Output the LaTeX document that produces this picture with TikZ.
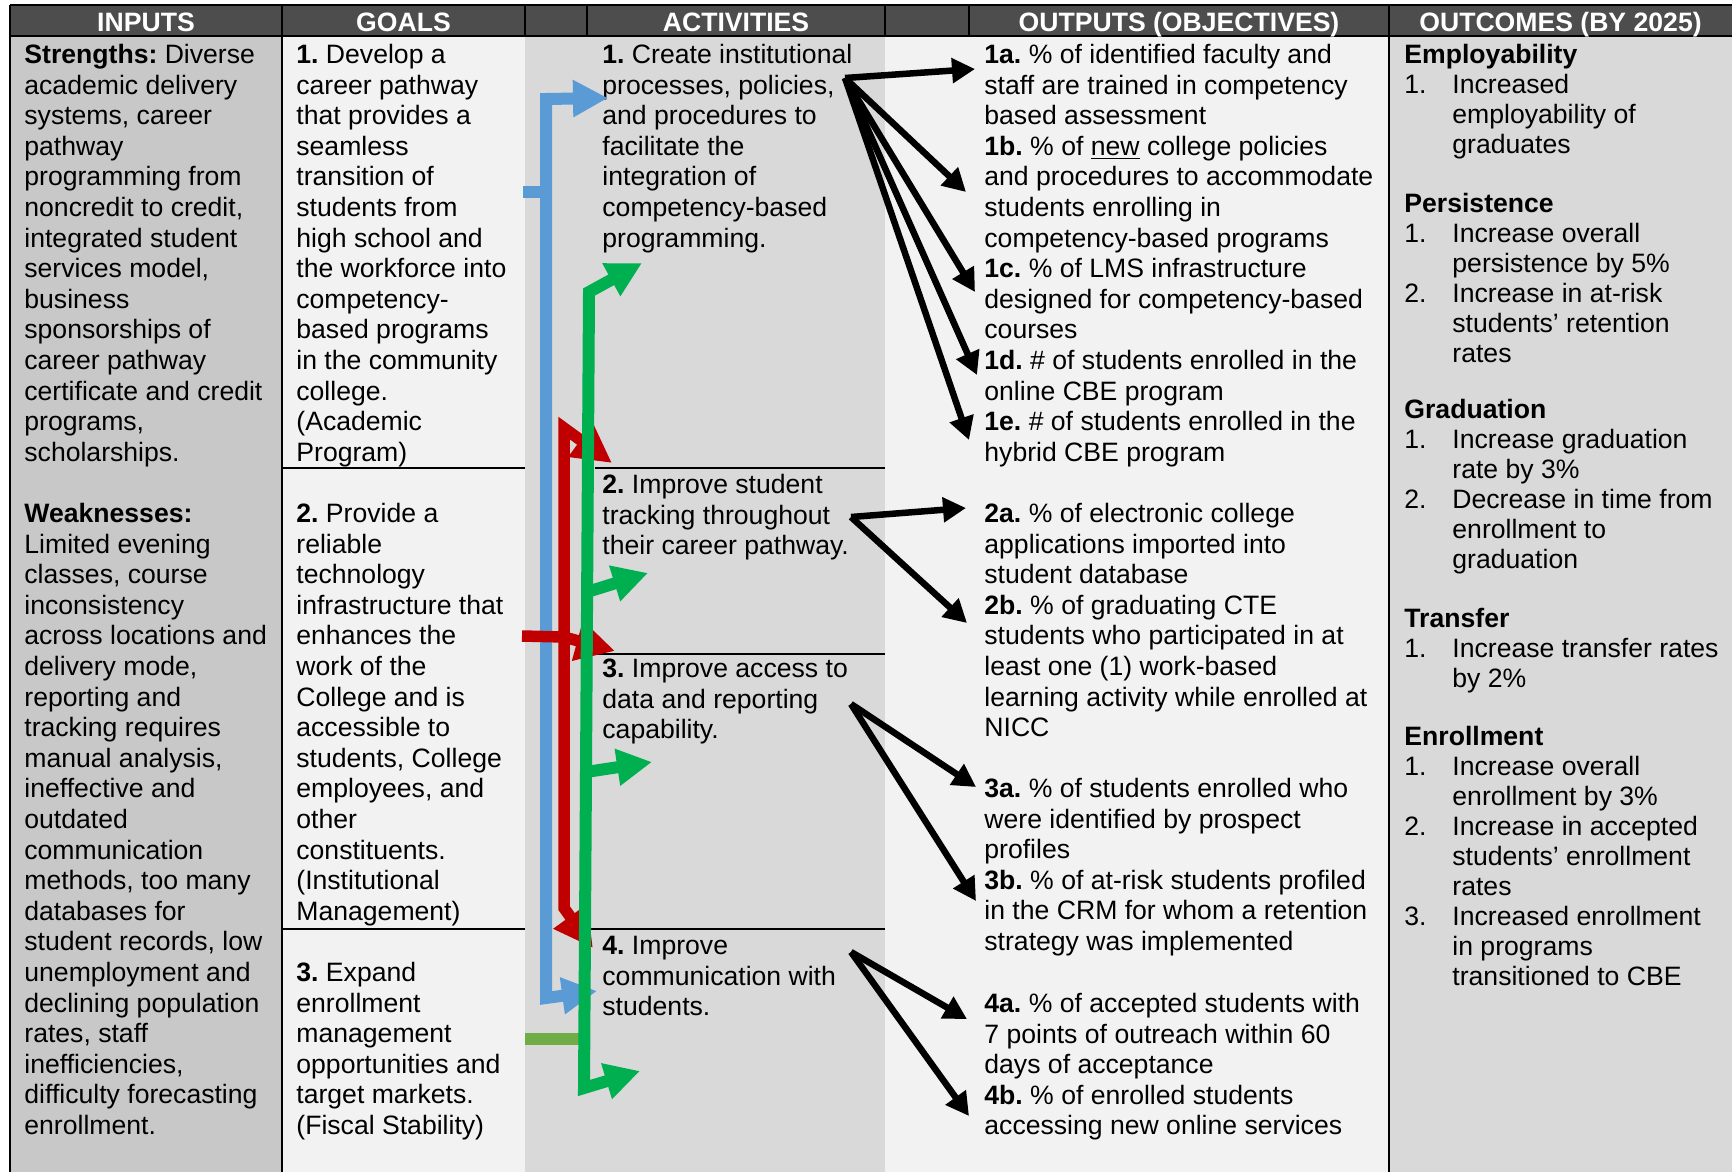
\documentclass[tikz,border=0pt]{standalone}
\usepackage{fontspec}
\setmainfont{Liberation Sans}
\usetikzlibrary{arrows.meta}
\frenchspacing
\definecolor{hdrgray}{HTML}{4D4D4D}
\definecolor{inbg}{HTML}{C8C8C8}
\definecolor{litebg}{HTML}{F2F2F2}
\definecolor{midbg}{HTML}{D9D9D9}
\definecolor{arrblue}{HTML}{5B9BD5}
\definecolor{arrred}{HTML}{C00000}
\definecolor{arrgreen}{HTML}{00B050}
\definecolor{stubgreen}{HTML}{70AD47}
\newcommand\bodyfont{\fontsize{13.3pt}{15.3pt}\selectfont\frenchspacing}
\newcommand\outcfont{\fontsize{13.3pt}{15pt}\selectfont\frenchspacing}
\newcommand\fst{\rule{0pt}{11pt}}
\newcommand\outind{\hspace*{24pt}}
\newcommand\outnum[1]{\makebox[24pt][l]{#1}}
\begin{document}
\begin{tikzpicture}[x=0.5pt,y=-0.5pt,
  txt/.style={anchor=north west,inner sep=0pt,align=left,font=\bodyfont},
  otxt/.style={anchor=north west,inner sep=0pt,align=left,font=\outcfont},
  hdrtxt/.style={anchor=base,inner sep=0pt,text=white,font=\bodyfont\bfseries},
  tabline/.style={line width=1.3pt,black},
  sepline/.style={line width=1pt,black},
  colline/.style={line width=6pt,line join=miter},
  colarrow/.style={line width=6pt,line join=miter,-{Triangle[length=17.5pt,width=17.5pt]}},
  colboth/.style={line width=6pt,line join=miter,{Triangle[length=17.5pt,width=17.5pt]}-{Triangle[length=17.5pt,width=17.5pt]}},
  redarrow/.style={line width=5.75pt,line join=miter,-{Triangle[length=19.5pt,width=19.5pt]}},
  redboth/.style={line width=5.75pt,line join=miter,{Triangle[length=19.5pt,width=19.5pt]}-{Triangle[length=19.5pt,width=19.5pt]}},
  blkarrow/.style={line width=3.25pt,-{Triangle[length=11.5pt,width=12pt]}},
]
\useasboundingbox (0,0) rectangle (1732,1172);
% backgrounds
\fill[white] (0,0) rectangle (1732,1172);
\fill[inbg] (10,36) rectangle (282,1172);
\fill[litebg] (282,36) rectangle (525,1172);
\fill[midbg] (525,36) rectangle (885,1172);
\fill[litebg] (885,36) rectangle (1389,1172);
\fill[midbg] (1389,36) rectangle (1732,1172);
\fill[hdrgray] (10,5) rectangle (1732,36);
% table lines
\draw[tabline] (10,5) -- (1732,5);
\draw[tabline] (10,36) -- (1732,36);
\draw[tabline] (10,5) -- (10,1172);
\draw[tabline] (282,5) -- (282,1172);
\draw[tabline] (1389,5) -- (1389,1172);
\foreach \xx in {525,587,885,969} \draw[tabline] (\xx,5) -- (\xx,36);
\draw[sepline] (282,468) -- (525,468);
\draw[sepline] (282,929) -- (525,929);
\draw[sepline] (595,468) -- (885,468);
\draw[sepline] (595,654) -- (885,654);
\draw[sepline] (590,929) -- (885,929);
% header
\node[hdrtxt] (hin) at (146,31.5) {INPUTS};
\node[hdrtxt] (hgoal) at (403.5,31.5) {GOALS};
\node[hdrtxt] (hact) at (736,31.5) {ACTIVITIES};
\node[hdrtxt] (hout) at (1179,31.5) {OUTPUTS (OBJECTIVES)};
\node[hdrtxt] (hoc) at (1560.5,31.5) {OUTCOMES (BY 2025)};
% inputs
\node[txt] (inputs) at (24,41) {\fst\textbf{Strengths:} Diverse\\
academic delivery\\
systems, career\\
pathway\\
programming from\\
noncredit to credit,\\
integrated student\\
services model,\\
business\\
sponsorships of\\
career pathway\\
certificate and credit\\
programs,\\
scholarships.\\[15.3pt]
\textbf{Weaknesses:}\\
Limited evening\\
classes, course\\
inconsistency\\
across locations and\\
delivery mode,\\
reporting and\\
tracking requires\\
manual analysis,\\
ineffective and\\
outdated\\
communication\\
methods, too many\\
databases for\\
student records, low\\
unemployment and\\
declining population\\
rates, staff\\
inefficiencies,\\
difficulty forecasting\\
enrollment.};
% goals
\node[txt] (goal1) at (296,41) {\fst\textbf{1.} Develop a\\
career pathway\\
that provides a\\
seamless\\
transition of\\
students from\\
high school and\\
the workforce into\\
competency-\\
based programs\\
in the community\\
college.\\
(Academic\\
Program)};
\node[txt] (goal2) at (296,500) {\fst\textbf{2.} Provide a\\
reliable\\
technology\\
infrastructure that\\
enhances the\\
work of the\\
College and is\\
accessible to\\
students, College\\
employees, and\\
other\\
constituents.\\
(Institutional\\
Management)};
\node[txt] (goal3) at (296,959) {\fst\textbf{3.} Expand\\
enrollment\\
management\\
opportunities and\\
target markets.\\
(Fiscal Stability)};
% activities
\node[txt] (act1) at (602,41) {\fst\textbf{1.} Create institutional\\
processes, policies,\\
and procedures to\\
facilitate the\\
integration of\\
competency-based\\
programming.};
\node[txt] (act2) at (602,471) {\fst\textbf{2.} Improve student\\
tracking throughout\\
their career pathway.};
\node[txt] (act3) at (602,655) {\fst\textbf{3.} Improve access to\\
data and reporting\\
capability.};
\node[txt] (act4) at (602,932) {\fst\textbf{4.} Improve\\
communication with\\
students.};
% outputs
\node[txt] (out1) at (984,41) {\fst\textbf{1a.} \% of identified faculty and\\
staff are trained in competency\\
based assessment\\
\textbf{1b.} \% of \underline{new} college policies\\
and procedures to accommodate\\
students enrolling in\\
competency-based programs\\
\textbf{1c.} \% of LMS infrastructure\\
designed for competency-based\\
courses\\
\textbf{1d.} \# of students enrolled in the\\
online CBE program\\
\textbf{1e.} \# of students enrolled in the\\
hybrid CBE program};
\node[txt] (out2) at (984,500) {\fst\textbf{2a.} \% of electronic college\\
applications imported into\\
student database\\
\textbf{2b.} \% of graduating CTE\\
students who participated in at\\
least one (1) work-based\\
learning activity while enrolled at\\
NICC};
\node[txt] (out3) at (984,775) {\fst\textbf{3a.} \% of students enrolled who\\
were identified by prospect\\
profiles\\
\textbf{3b.} \% of at-risk students profiled\\
in the CRM for whom a retention\\
strategy was implemented};
\node[txt] (out4) at (984,990) {\fst\textbf{4a.} \% of accepted students with\\
7 points of outreach within 60\\
days of acceptance\\
\textbf{4b.} \% of enrolled students\\
accessing new online services};
% outcomes
\node[otxt] (oc1) at (1404,41) {\fst\textbf{Employability}\\
\outnum{1.}Increased\\
\outind employability of\\
\outind graduates};
\node[otxt] (oc2) at (1404,190) {\fst\textbf{Persistence}\\
\outnum{1.}Increase overall\\
\outind persistence by 5\%\\
\outnum{2.}Increase in at-risk\\
\outind students’ retention\\
\outind rates};
\node[otxt] (oc3) at (1404,396) {\fst\textbf{Graduation}\\
\outnum{1.}Increase graduation\\
\outind rate by 3\%\\
\outnum{2.}Decrease in time from\\
\outind enrollment to\\
\outind graduation};
\node[otxt] (oc4) at (1404,605) {\fst\textbf{Transfer}\\
\outnum{1.}Increase transfer rates\\
\outind by 2\%};
\node[otxt] (oc5) at (1404,723) {\fst\textbf{Enrollment}\\
\outnum{1.}Increase overall\\
\outind enrollment by 3\%\\
\outnum{2.}Increase in accepted\\
\outind students’ enrollment\\
\outind rates\\
\outnum{3.}Increased enrollment\\
\outind in programs\\
\outind transitioned to CBE};
% coloured arrow coordinates
\coordinate (bstub) at (523,192);
\coordinate (bjoin) at (546,192);
\coordinate (btop) at (546,99);
\coordinate (btip1) at (608,98);
\coordinate (bbot) at (546,998);
\coordinate (btip4) at (597,991);
\coordinate (rtip1) at (612,463);
\coordinate (rtop) at (564,428);
\coordinate (rbot) at (564,908);
\coordinate (rtip4) at (593,948);
\coordinate (rstub) at (522,636);
\coordinate (rmid) at (564,637);
\coordinate (rtip2) at (615,651);
\coordinate (gtip1) at (642,263);
\coordinate (gtop) at (589,292);
\coordinate (gbot) at (584,1088);
\coordinate (gtip4) at (640,1071);
\coordinate (gb2) at (587,592);
\coordinate (gtip2) at (648,573);
\coordinate (gb3) at (586,772);
\coordinate (gtip3) at (652,762);
\coordinate (gs1) at (525,1039);
\coordinate (gs2) at (580,1039);
% blue
\draw[colline,arrblue] (bstub) -- (bjoin);
\draw[colboth,arrblue] (btip4) -- (bbot) -- (btop) -- (btip1);
% red
\draw[redboth,arrred] (rtip1) -- (rtop) -- (rbot) -- (rtip4);
\draw[redarrow,arrred] (rstub) -- (rmid) -- (rtip2);
% green
\draw[colline,stubgreen] (gs1) -- (gs2);
\draw[colboth,arrgreen] (gtip1) -- (gtop) -- (gbot) -- (gtip4);
\draw[colarrow,arrgreen] (gb2) -- (gtip2);
\draw[colarrow,arrgreen] (gb3) -- (gtip3);
% black arrow coordinates
\coordinate (a1o) at (845,78);
\coordinate (t1a) at (975,69);
\coordinate (t1b) at (966,192);
\coordinate (t1c) at (975,292);
\coordinate (t1d) at (977,375);
\coordinate (t1e) at (969,440);
\coordinate (a2o) at (851,517);
\coordinate (t2a) at (966,508);
\coordinate (t2b) at (967,623);
\coordinate (a3o) at (851,704);
\coordinate (t3a) at (976,787);
\coordinate (t3b) at (976,901);
\coordinate (a4o) at (851,952);
\coordinate (t4a) at (967,1019);
\coordinate (t4b) at (969,1116);
\foreach \tt in {t1a,t1b,t1c,t1d,t1e} \draw[blkarrow] (a1o) -- (\tt);
\foreach \tt in {t2a,t2b} \draw[blkarrow] (a2o) -- (\tt);
\foreach \tt in {t3a,t3b} \draw[blkarrow] (a3o) -- (\tt);
\foreach \tt in {t4a,t4b} \draw[blkarrow] (a4o) -- (\tt);
\end{tikzpicture}
\end{document}
